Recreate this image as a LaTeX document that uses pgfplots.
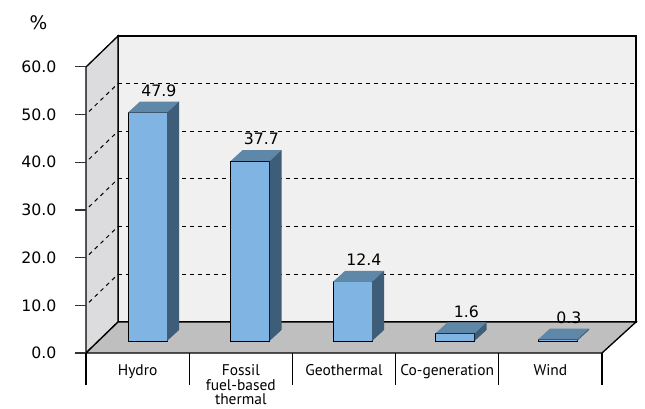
\documentclass[border=0pt]{standalone}
\usepackage{pgfplots}
\pgfplotsset{compat=1.18}
\usepackage{fontspec}
\setmainfont{DejaVu Sans}
\newfontfamily\catfont{PT Sans}
\definecolor{backwall}{HTML}{F0F0F0}
\definecolor{sidewall}{HTML}{DCDCDF}
\definecolor{floorc}{HTML}{BFBFBF}
\definecolor{barfront}{HTML}{7FB4E3}
\definecolor{bartop}{HTML}{5E87A8}
\definecolor{barside}{HTML}{3E5D79}
\pgfdeclareplotmark{bar3d}{%
  \pgfmathsetmacro\hh{\barval*3.5775}%
  \pgfpathmoveto{\pgfpoint{-14.625pt}{0pt}}%
  \pgfpathlineto{\pgfpoint{14.625pt}{0pt}}%
  \pgfpathlineto{\pgfpoint{23.625pt}{8.25pt}}%
  \pgfpathlineto{\pgfpoint{-5.625pt}{8.25pt}}%
  \pgfpathclose
  \pgfsetfillcolor{bartop}\pgfusepath{fill}%
  \pgfpathmoveto{\pgfpoint{14.625pt}{0pt}}%
  \pgfpathlineto{\pgfpoint{23.625pt}{8.25pt}}%
  \pgfpathlineto{\pgfpoint{23.625pt}{8.25pt-\hh pt}}%
  \pgfpathlineto{\pgfpoint{14.625pt}{-\hh pt}}%
  \pgfpathclose
  \pgfsetfillcolor{barside}\pgfusepath{fill}%
}
\begin{document}
\begin{tikzpicture}[x=0.75pt,y=0.75pt]
\useasboundingbox (0,0) rectangle (645,408);
% back wall
\filldraw[fill=backwall, draw=black, line width=1pt] (118,86) rectangle (636,372);
% left wall
\filldraw[fill=sidewall, draw=black, line width=1pt] (86,55) -- (118,86) -- (118,372) -- (86,341) -- cycle;
% grid lines
\foreach \v in {10,20,30,40,50} {
  \draw[dashed, line width=0.75pt] (118,{86+4.77*\v}) -- (636,{86+4.77*\v});
  \draw[dashed, line width=0.75pt] (89,{58+4.77*\v}) -- (118,{86+4.77*\v});
}
% floor
\filldraw[fill=floorc, draw=black, line width=1pt] (86,55) -- (602,55) -- (636,86) -- (118,86) -- cycle;
\node[font=\fontsize{14}{16}\selectfont] at (38.5,385) {\%};
% y ticks frame
\begin{axis}[
  at={(64.5pt,41.25pt)}, anchor=south west,
  scale only axis, width=387pt, height=214.65pt,
  xmin=0, xmax=5, ymin=0, ymax=60,
  axis x line=none, axis y line*=left,
  y axis line style={draw=none},
  ytick={0,10,...,60},
  tick align=outside, major tick length=8.25pt,
  tick style={black!80, line width=0.9pt},
  yticklabel style={font=\fontsize{11.8}{13}\selectfont, xshift=-10.5pt},
  /pgf/number format/.cd, fixed, fixed zerofill, precision=1, assume math mode=true,
]
\end{axis}
% x categories frame
\begin{axis}[
  at={(64.5pt,41.25pt)}, anchor=south west,
  scale only axis, width=387pt, height=214.65pt,
  xmin=0, xmax=5, ymin=0, ymax=60,
  axis y line=none, axis x line*=bottom,
  x axis line style={draw=none},
  xtick={0.5,1.5,2.5,3.5,4.5},
  xticklabels={Hydro,{Fossil\\fuel-based\\thermal},Geothermal,Co-generation,Wind},
  minor xtick={0,1,2,3,4,5},
  tick align=outside, major tick length=0pt, minor tick length=24pt,
  tick style={black, line width=0.8pt},
  xticklabel style={align=center, yshift=-5pt, font=\catfont\fontsize{11.6}{11}\selectfont},
]
\end{axis}
% bars
\begin{axis}[
  at={(72.1875pt,50.25pt)}, anchor=south west,
  scale only axis, width=384.375pt, height=214.65pt,
  xmin=-0.5, xmax=4.5, ymin=0, ymax=60,
  hide axis, clip=false,
]
\addplot[only marks, mark=bar3d, visualization depends on={rawy \as \barval},
  point meta=y, nodes near coords,
  nodes near coords style={anchor=center, xshift=8.6pt, yshift=16.5pt, font=\fontsize{11.8}{13}\selectfont, text=black,
    /pgf/number format/.cd, fixed, fixed zerofill, precision=1, assume math mode=true}]
  coordinates {(0,47.9) (1,37.7) (2,12.4) (3,1.6) (4,0.3)};
\addplot[ybar, bar width=29.25pt, fill=barfront, draw=black, line width=0.75pt]
  coordinates {(0,47.9) (1,37.7) (2,12.4) (3,1.6) (4,0.3)};
\end{axis}
\end{tikzpicture}
\end{document}
